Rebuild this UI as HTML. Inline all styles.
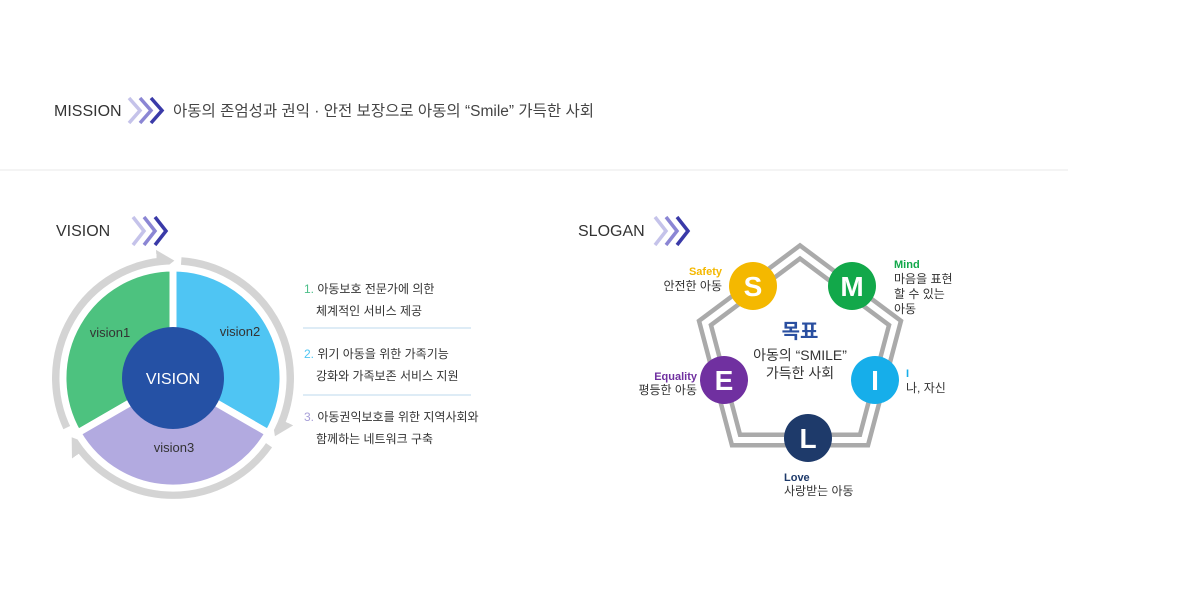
<!DOCTYPE html>
<html><head><meta charset="utf-8"><style>
html,body{margin:0;padding:0;background:#fff;}
svg{display:block;}
text{font-family:"Liberation Sans","Noto Sans CJK KR",sans-serif;}
</style></head><body>
<svg width="1200" height="590" viewBox="0 0 1200 590" xmlns="http://www.w3.org/2000/svg">
<defs>
<marker id="ah" markerWidth="3" markerHeight="3" refX="1" refY="1.5" orient="auto" markerUnits="strokeWidth">
<path d="M0,0 L2.2,1.5 L0,3 Z" fill="#d4d4d4"/>
</marker>
</defs>
<!-- MISSION -->
<text x="54" y="116" font-size="16" fill="#333">MISSION</text>
<g fill="none" stroke-width="3.5">
<path d="M129,98 L140,110.5 L129,123" stroke="#c5c3ea"/>
<path d="M140,98 L151,110.5 L140,123" stroke="#8b86d4"/>
<path d="M151,98 L162,110.5 L151,123" stroke="#3a3aa8"/>
</g>
<text x="173" y="116" font-size="15.5" fill="#444">아동의 존엄성과 권익 · 안전 보장으로 아동의 “Smile” 가득한 사회</text>
<line x1="0" y1="170" x2="1068" y2="170" stroke="#e8e8e8" stroke-width="1"/>

<!-- VISION header -->
<text x="56" y="236" font-size="16" fill="#333">VISION</text>
<g fill="none" stroke-width="3.5">
<path d="M133,217 L144,231 L133,245" stroke="#c5c3ea"/>
<path d="M144,217 L155,231 L144,245" stroke="#8b86d4"/>
<path d="M155,217 L166,231 L155,245" stroke="#3a3aa8"/>
</g>
<!-- ring arrows -->
<g fill="none" stroke="#d4d4d4" stroke-width="8">
<path d="M67,427.5 A117,117 0 0 1 164.8,261.3" marker-end="url(#ah)"/>
<path d="M181.2,261.3 A117,117 0 0 1 279,427.5" marker-end="url(#ah)"/>
<path d="M268.8,445.1 A117,117 0 0 1 77.2,445.1" marker-end="url(#ah)"/>
</g>
<!-- sectors -->
<g stroke="#fff" stroke-width="7">
<path d="M173,378 L77.7,433 A110,110 0 0 1 173,268 Z" fill="#4dc27f"/>
<path d="M173,378 L173,268 A110,110 0 0 1 268.3,433 Z" fill="#4fc5f3"/>
<path d="M173,378 L268.3,433 A110,110 0 0 1 77.7,433 Z" fill="#b2aae0"/>
</g>
<circle cx="173" cy="378" r="51" fill="#2551a5"/>
<text x="173" y="384" font-size="16" fill="#fff" text-anchor="middle">VISION</text>
<text x="110" y="337" font-size="13" fill="#333" text-anchor="middle">vision1</text>
<text x="240" y="336" font-size="13" fill="#333" text-anchor="middle">vision2</text>
<text x="174" y="452" font-size="13" fill="#333" text-anchor="middle">vision3</text>

<!-- list -->
<g font-size="12" fill="#333">
<text x="304" y="293"><tspan fill="#4dbf8a">1.</tspan> 아동보호 전문가에 의한</text>
<text x="316" y="315">체계적인 서비스 제공</text>
<text x="304" y="358"><tspan fill="#4fc5f3">2.</tspan> 위기 아동을 위한 가족기능</text>
<text x="316" y="380">강화와 가족보존 서비스 지원</text>
<text x="304" y="421"><tspan fill="#a79fd8">3.</tspan> 아동권익보호를 위한 지역사회와</text>
<text x="316" y="443">함께하는 네트워크 구축</text>
</g>
<line x1="303" y1="328" x2="471" y2="328" stroke="#d3e6f3" stroke-width="1.5"/>
<line x1="303" y1="395" x2="471" y2="395" stroke="#d3e6f3" stroke-width="1.5"/>

<!-- SLOGAN -->
<text x="578" y="236" font-size="16" fill="#333">SLOGAN</text>
<g fill="none" stroke-width="3.5">
<path d="M655,217 L666,231 L655,245" stroke="#c5c3ea"/>
<path d="M666,217 L677,231 L666,245" stroke="#8b86d4"/>
<path d="M677,217 L688,231 L677,245" stroke="#3a3aa8"/>
</g>
<polygon points="800,252 895,323 864,440 736,440 705,323" fill="none" stroke="#aaa" stroke-width="15" stroke-linejoin="miter"/>
<polygon points="800,252 895,323 864,440 736,440 705,323" fill="none" stroke="#fff" stroke-width="6" stroke-linejoin="miter"/>
<g font-weight="bold" font-size="28" fill="#fff" text-anchor="middle">
<circle cx="753" cy="286" r="24" fill="#f4b800"/><text x="753" y="296">S</text>
<circle cx="852" cy="286" r="24" fill="#12a84a"/><text x="852" y="296">M</text>
<circle cx="875" cy="380" r="24" fill="#16aeea"/><text x="875" y="390">I</text>
<circle cx="808" cy="438" r="24" fill="#1e3a6a"/><text x="808" y="448">L</text>
<circle cx="724" cy="380" r="24" fill="#7030a0"/><text x="724" y="390">E</text>
</g>
<text x="800" y="338" font-size="20" font-weight="bold" fill="#2a4fa0" text-anchor="middle">목표</text>
<text x="800" y="360" font-size="14" fill="#333" text-anchor="middle">아동의 “SMILE”</text>
<text x="800" y="378" font-size="14" fill="#333" text-anchor="middle">가득한 사회</text>
<g font-size="12" fill="#333">
<text x="722" y="275" text-anchor="end" font-size="11" font-weight="bold" fill="#f4b800">Safety</text>
<text x="722" y="290" text-anchor="end">안전한 아동</text>
<text x="894" y="268" font-size="11" font-weight="bold" fill="#12a84a">Mind</text>
<text x="894" y="283">마음을 표현</text>
<text x="894" y="298">할 수 있는</text>
<text x="894" y="313">아동</text>
<text x="906" y="377" font-size="11" font-weight="bold" fill="#16aeea">I</text>
<text x="906" y="392">나, 자신</text>
<text x="697" y="380" text-anchor="end" font-size="11" font-weight="bold" fill="#7030a0">Equality</text>
<text x="697" y="394" text-anchor="end">평등한 아동</text>
<text x="784" y="481" font-size="11" font-weight="bold" fill="#1e3a6a">Love</text>
<text x="784" y="495">사랑받는 아동</text>
</g>
</svg>
</body></html>
